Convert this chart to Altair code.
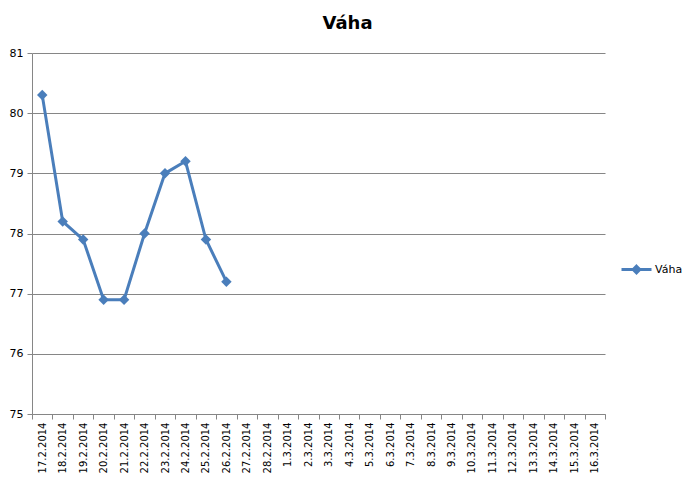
import altair as alt
import pandas as pd

dates = ["17.2.2014", "18.2.2014", "19.2.2014", "20.2.2014", "21.2.2014", "22.2.2014",
         "23.2.2014", "24.2.2014", "25.2.2014", "26.2.2014", "27.2.2014", "28.2.2014",
         "1.3.2014", "2.3.2014", "3.3.2014", "4.3.2014", "5.3.2014", "6.3.2014",
         "7.3.2014", "8.3.2014", "9.3.2014", "10.3.2014", "11.3.2014", "12.3.2014",
         "13.3.2014", "14.3.2014", "15.3.2014", "16.3.2014"]
weights = [80.3, 78.2, 77.9, 76.9, 76.9, 78.0, 79.0, 79.2, 77.9, 77.2]
series = "Váha"

df = pd.DataFrame({"date": dates[:len(weights)], "value": weights, "series": series})

BLUE = "#4A7EBB"
GRID = "#868686"

x = alt.X("date:N", sort=dates,
          scale=alt.Scale(domain=dates, paddingInner=0, paddingOuter=0),
          axis=alt.Axis(title=None, labelAngle=270, labelAlign="right", labelBaseline="middle",
                        tickBand="extent", labelFont="DejaVu Sans", labelFontSize=10,
                        labelColor="#000000", domainColor=GRID, tickColor=GRID, tickSize=5,
                        labelPadding=3, grid=False))
y = alt.Y("value:Q", scale=alt.Scale(domain=[75, 81], nice=False, zero=False),
          axis=alt.Axis(title=None, values=[75, 76, 77, 78, 79, 80, 81], grid=True,
                        gridColor=GRID, domainColor=GRID, tickColor=GRID, tickSize=5,
                        labelFont="DejaVu Sans", labelFontSize=11, labelColor="#000000",
                        labelPadding=4))
color = alt.Color("series:N", scale=alt.Scale(range=[BLUE]),
                  legend=alt.Legend(title=None, orient="none", legendX=588, legendY=200,
                                    symbolType="M-1,0H1M0,-0.22L0.22,0L0,0.22L-0.22,0Z",
                                    symbolSize=900, symbolStrokeWidth=3,
                                    symbolFillColor=BLUE, symbolStrokeColor=BLUE,
                                    labelFont="DejaVu Sans", labelFontSize=11,
                                    labelColor="#000000", labelOffset=2, padding=0))

line = alt.Chart(df).mark_line(strokeWidth=3, color=BLUE).encode(x=x, y=y, color=color)
pts = alt.Chart(df).mark_point(shape="diamond", filled=True, size=110, opacity=1, color=BLUE).encode(
    x=x, y=y)

chart = (line + pts).properties(
    width=573, height=361,
    background="white",
    title=alt.TitleParams(text="Váha", font="DejaVu Sans", fontSize=18, fontWeight="bold",
                          anchor="middle", dx=29, offset=14, color="#000000"),
    autosize=alt.AutoSizeParams(type="none"),
    padding={"left": 24, "top": 45, "right": 79, "bottom": 62},
).configure_view(strokeWidth=0, stroke="transparent")

chart.save("out.html", embed_options={"renderer": "svg", "actions": False})
